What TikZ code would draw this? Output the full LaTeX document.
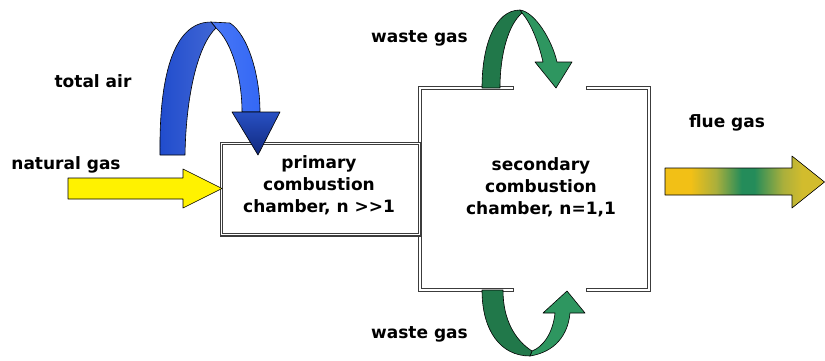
\documentclass[tikz,border=0pt]{standalone}
\usepackage{fontspec}
\setmainfont{DejaVu Sans}
\definecolor{bluedark}{RGB}{32,76,205}
\definecolor{bluelight}{RGB}{52,104,245}
\definecolor{bluehead1}{RGB}{40,80,195}
\definecolor{bluehead2}{RGB}{16,40,125}
\definecolor{greendark}{RGB}{33,120,74}
\definecolor{greenlight}{RGB}{46,150,96}
\definecolor{fy}{RGB}{242,192,22}
\definecolor{fo}{RGB}{170,175,60}
\definecolor{fg}{RGB}{36,140,90}
\definecolor{fh}{RGB}{210,188,45}
\definecolor{edgegray}{RGB}{60,60,60}
\pgfdeclarehorizontalshading{fluegrad}{100bp}{color(0bp)=(fy); color(25bp)=(fy); color(33bp)=(fy); color(41bp)=(fo); color(49bp)=(fg); color(53bp)=(fg); color(62bp)=(fo); color(68bp)=(fh); color(75bp)=(fh); color(100bp)=(fh)}
\tikzset{
  lbl/.style={font=\bfseries\fontsize{17}{22}\selectfont, inner sep=0pt, text=black},
  dblout/.style={draw=edgegray, line width=3.6pt, line cap=rect},
  dblin/.style={draw=white, line width=1.1pt, line cap=rect},
  outl/.style={draw=black, line width=0.6pt, line join=round},
}
\begin{document}
\begin{tikzpicture}[x=1pt,y=-1pt]
\useasboundingbox (0,0) rectangle (825,360);
\fill[white] (0,0) rectangle (825,360);

% secondary chamber box (with gaps for the gas arrows)
\coordinate (s1) at (420,143);
\coordinate (s2) at (420,88);
\coordinate (s3) at (512,88);
\coordinate (s4) at (588,88);
\coordinate (s5) at (649,88);
\coordinate (s6) at (649,290);
\coordinate (s7) at (588,290);
\coordinate (s8) at (512,290);
\coordinate (s9) at (420,290);
\coordinate (s10) at (420,235);
\foreach \st in {dblout,dblin}{
  \draw[\st] (s1) -- (s2) -- (s3);
  \draw[\st] (s4) -- (s5) -- (s6) -- (s7);
  \draw[\st] (s8) -- (s9) -- (s10);
}

% primary chamber box
\node[minimum width=198pt, minimum height=91pt, inner sep=0pt] (primary) at (320.5,189) {};
\draw[dblout] (primary.north west) rectangle (primary.south east);
\draw[dblin] (primary.north west) rectangle (primary.south east);
\node[lbl, align=center] (ptext) at (319,185.5) {primary\\combustion\\chamber, n >{}>1};
\node[lbl, align=center] (stext) at (541,187.5) {secondary\\combustion\\chamber, n=1,1};

% labels
\node[lbl, anchor=base] (lair) at (93,87) {total air};
\node[lbl, anchor=base] (lgas) at (66,169) {natural gas};
\node[lbl, anchor=base east] (lw1) at (468,42) {waste gas};
\node[lbl, anchor=base east] (lw2) at (468,338) {waste gas};
\node[lbl, anchor=base] (lflue) at (727,127) {flue gas};

% natural gas arrow
\draw[outl, fill=yellow] (68,178) -- (183,178) -- (183,169) -- (222,188.5) -- (183,208) -- (183,199) -- (68,199) -- cycle;

% flue gas arrow
\draw[outl, shading=fluegrad] (665,168) -- (792,168) -- (792,156) -- (824.5,182) -- (792,208) -- (792,195) -- (665,195) -- cycle;

% total air arrow (blue)
\draw[outl, left color=bluelight!90!white, right color=bluelight] (211,22) -- (230,23) .. controls (248,35) and (260,75) .. (260,112) -- (242,112) .. controls (242,78) and (232,42) .. (216,28) -- cycle;
\draw[outl, left color=bluedark, right color=bluedark!85!white] (160,155) .. controls (159,80) and (172,22) .. (211,22) -- (216,28) .. controls (198,45) and (186,95) .. (185,155) -- cycle;
\draw[outl, top color=bluehead1, bottom color=bluehead2] (232,112) -- (280,112) -- (258,155) -- cycle;

% waste gas arrow (top)
\draw[outl, fill=greenlight] (520,10) .. controls (535,12) and (552,40) .. (557,62) -- (572,62) -- (556,88) -- (535,62) -- (543,62) .. controls (538,40) and (530,22) .. (522,13) -- cycle;
\draw[outl, fill=greendark] (482,88) .. controls (482,45) and (495,10) .. (520,10) -- (522,13) .. controls (508,25) and (500,55) .. (500,88) -- cycle;

% waste gas arrow (bottom)
\draw[outl, fill=greenlight] (530,356) .. controls (555,352) and (568,335) .. (570,313) -- (585,313) -- (567,291) -- (543,313) -- (555,313) .. controls (553,333) and (543,347) .. (532,351) -- cycle;
\draw[outl, fill=greendark] (482,290) .. controls (482,330) and (500,356) .. (530,356) -- (532,351) .. controls (515,340) and (503,320) .. (503,290) -- cycle;
\end{tikzpicture}
\end{document}
